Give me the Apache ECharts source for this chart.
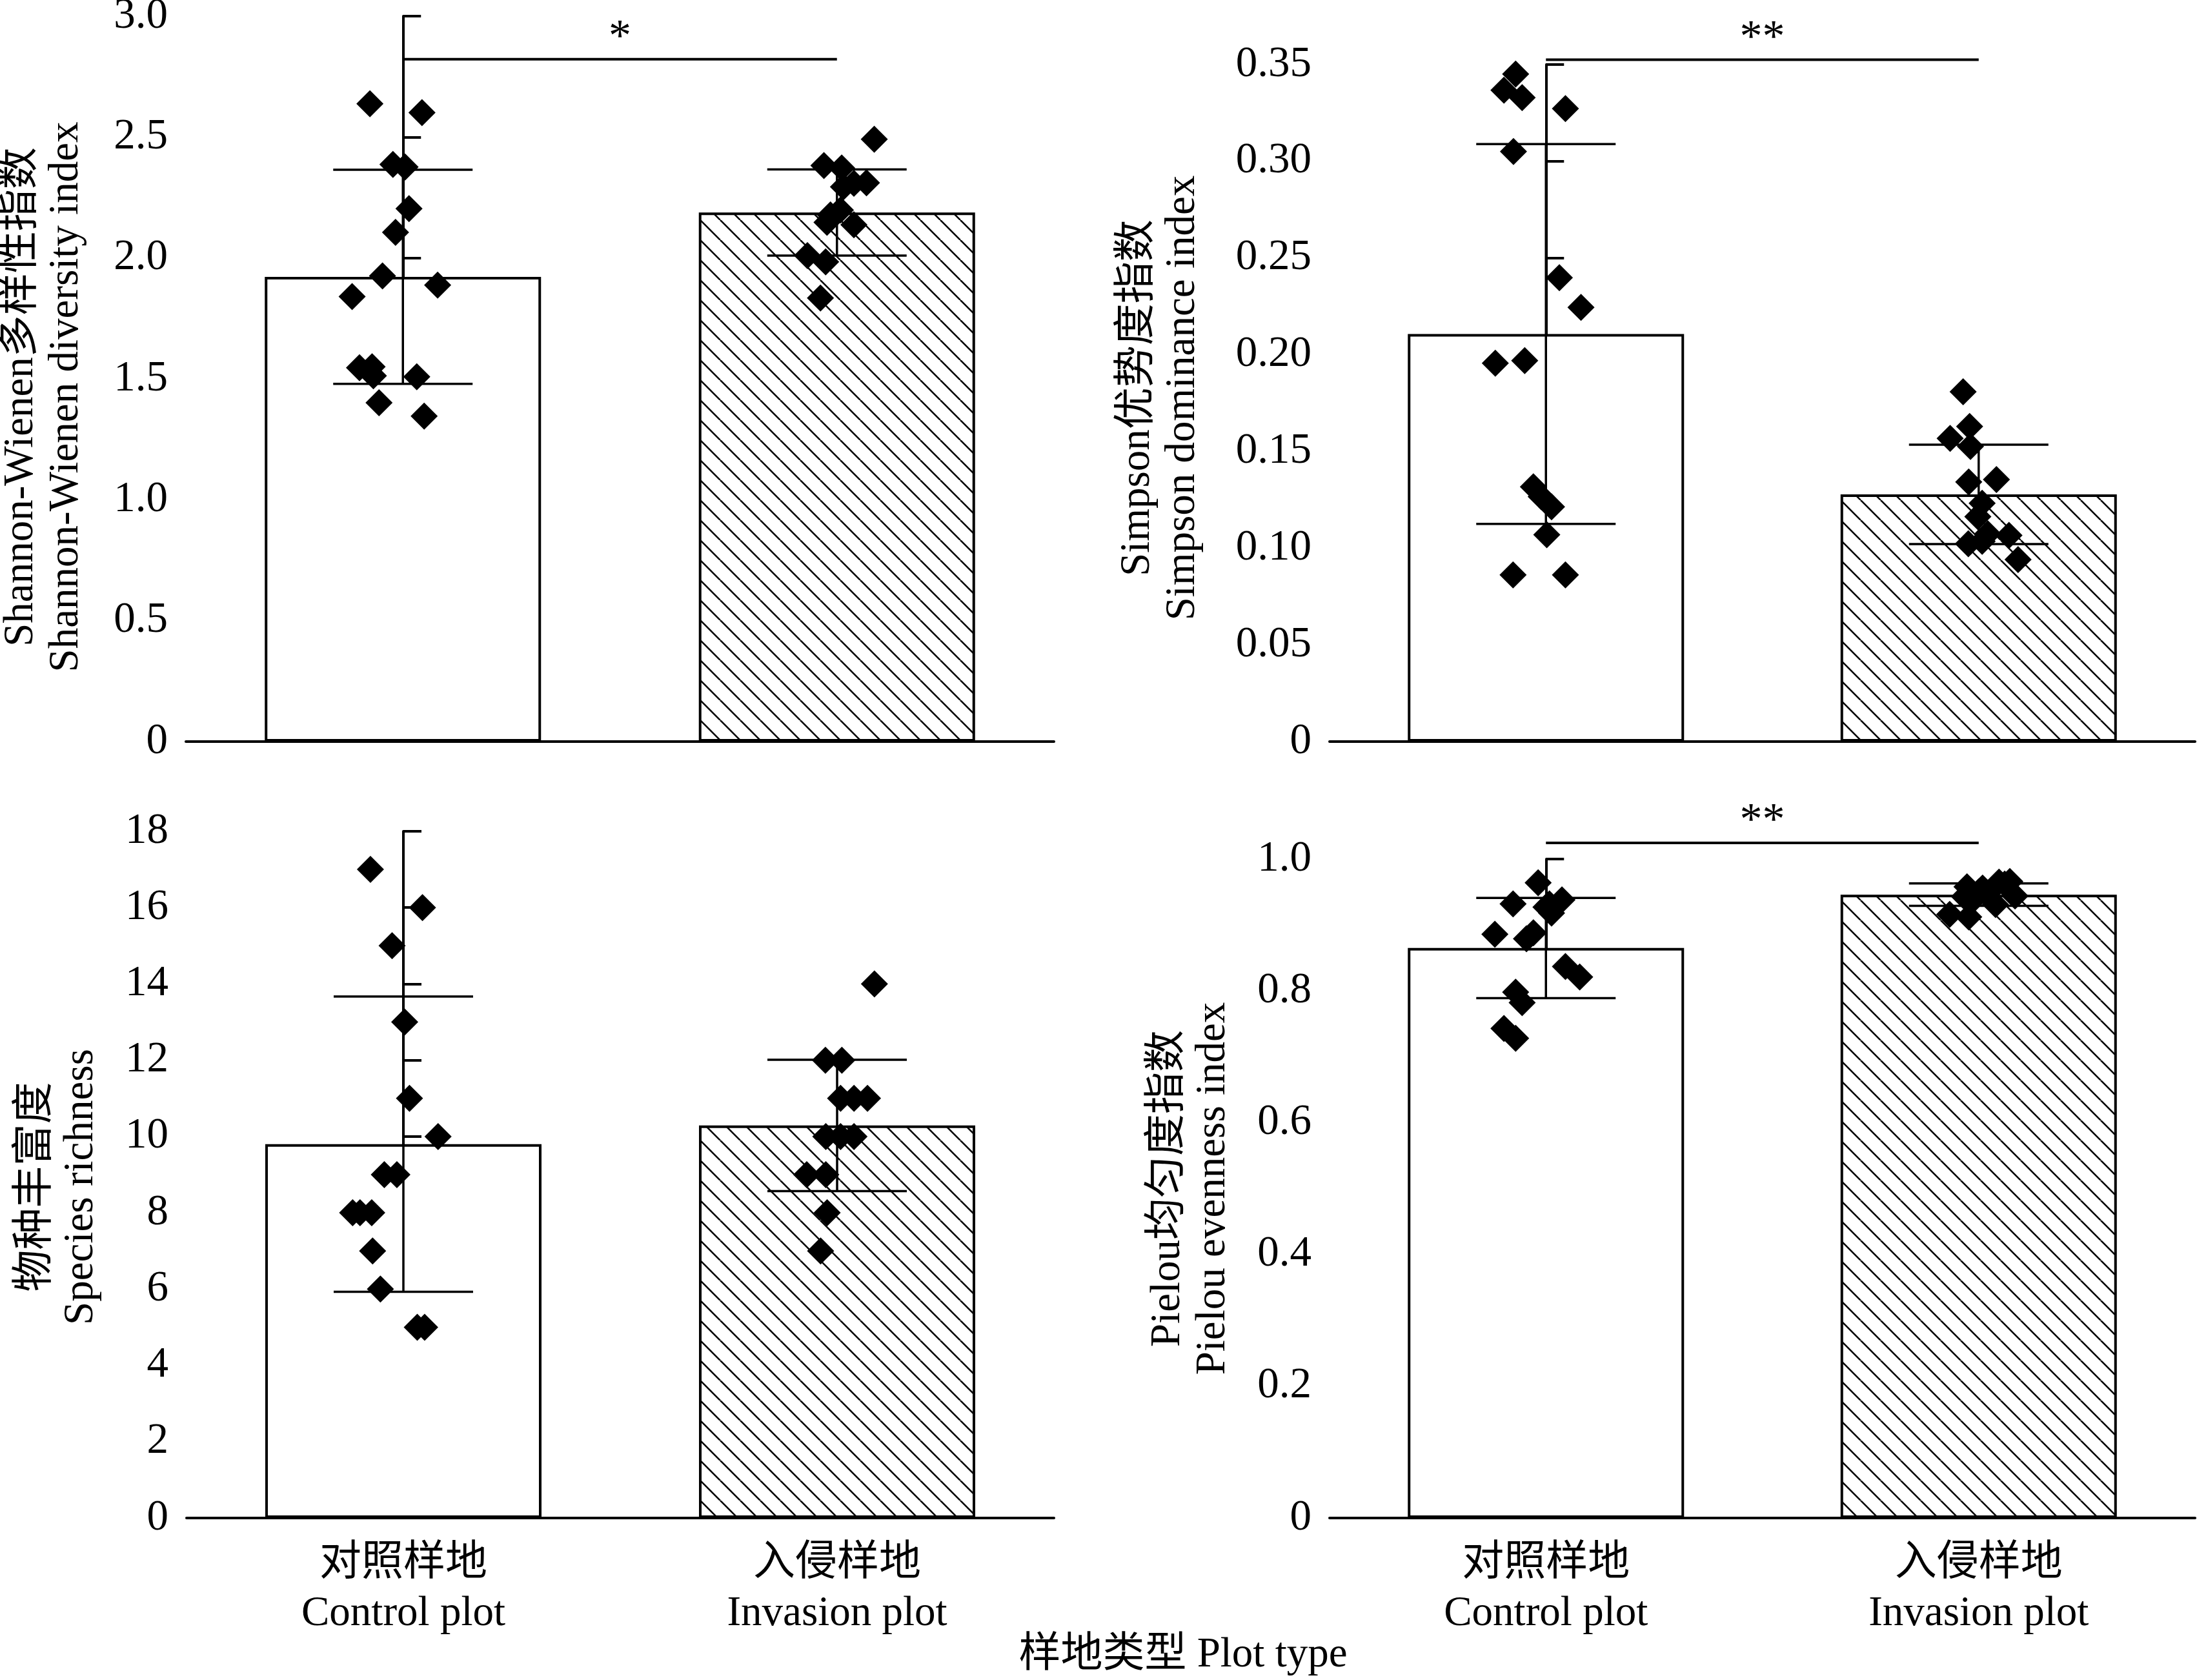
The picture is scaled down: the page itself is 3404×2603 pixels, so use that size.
<!DOCTYPE html>
<html>
<head>
<meta charset="utf-8">
<script src="https://cdn.jsdelivr.net/npm/echarts@6/dist/echarts.min.js"></script>
<style>
html,body{margin:0;padding:0;background:#fff;}
#c{width:3404px;height:2603px;}
</style>
</head>
<body>
<div id="c"></div>
<script>
// ---------------- data ----------------
const categories = ['对照样地\nControl plot', '入侵样地\nInvasion plot'];
const xTitle = '样地类型 Plot type';

// Shannon-Wienen
const shannonMean = [1.922, 2.188];
const shannonSD = [0.443, 0.178];
const shannonControl = [2.638, 2.601, 2.387, 2.376, 2.204, 2.106, 1.926, 1.888, 1.840, 1.546, 1.550, 1.513, 1.509, 1.401, 1.346];
const shannonControlJitter = [-0.076, 0.044, -0.023, 0.005, 0.014, -0.017, -0.047, 0.080, -0.117, -0.100, -0.071, -0.068, 0.032, -0.055, 0.049];
const shannonInvasion = [2.491, 2.382, 2.372, 2.311, 2.294, 2.309, 2.178, 2.198, 2.147, 2.137, 2.010, 1.984, 1.834];
const shannonInvasionJitter = [0.086, -0.030, 0.011, 0.068, 0.015, 0.039, -0.015, 0.008, -0.023, 0.039, -0.068, -0.026, -0.038];
const shannonSig = [2.822, '*'];

// Simpson
const simpsonMean = [0.2107, 0.1278];
const simpsonSD = [0.0982, 0.0257];
const simpsonControl = [0.3451, 0.3367, 0.3329, 0.3272, 0.3050, 0.2398, 0.2245, 0.1956, 0.1969, 0.1317, 0.1266, 0.1214, 0.1069, 0.0862, 0.0862];
const simpsonControlJitter = [-0.070, -0.097, -0.055, 0.045, -0.075, 0.031, 0.081, -0.117, -0.049, -0.029, -0.011, 0.013, 0.002, -0.076, 0.045];
const simpsonInvasion = [0.1808, 0.1629, 0.1567, 0.1526, 0.1342, 0.1355, 0.1232, 0.1163, 0.1023, 0.1074, 0.1066, 0.0941, 0.1035];
const simpsonInvasionJitter = [-0.036, -0.021, -0.066, -0.019, -0.023, 0.041, 0.008, -0.002, -0.024, 0.021, 0.070, 0.091, 0.008];
const simpsonSig = [0.3525, '**'];

// Species richness
const richnessMean = [9.80, 10.29];
const richnessSD = [3.87, 1.72];
const richnessControl = [17, 16, 15, 13, 11, 10, 9, 9, 8, 8, 8, 7, 6, 5, 5];
const richnessControlJitter = [-0.076, 0.044, -0.026, 0.003, 0.014, 0.080, -0.044, -0.015, -0.117, -0.100, -0.073, -0.071, -0.053, 0.032, 0.049];
const richnessInvasion = [14, 12, 12, 11, 11, 11, 10, 10, 10, 9, 9, 8, 7];
const richnessInvasionJitter = [0.086, -0.027, 0.011, 0.008, 0.039, 0.070, -0.026, 0.008, 0.039, -0.070, -0.026, -0.023, -0.038];
const richnessSig = null;

// Pielou
const pielouMean = [0.865, 0.946];
const pielouSD = [0.076, 0.017];
const pielouControl = [0.964, 0.932, 0.932, 0.938, 0.918, 0.927, 0.886, 0.879, 0.888, 0.837, 0.821, 0.798, 0.782, 0.743, 0.728];
const pielouControlJitter = [-0.018, -0.076, 0.008, 0.037, 0.013, 0.000, -0.118, -0.045, -0.029, 0.045, 0.078, -0.070, -0.055, -0.097, -0.070];
const pielouInvasion = [0.958, 0.956, 0.965, 0.966, 0.944, 0.931, 0.912, 0.916, 0.943, 0.950, 0.948, 0.940, 0.962];
const pielouInvasionJitter = [-0.027, 0.009, 0.047, 0.072, 0.084, 0.039, -0.023, -0.067, -0.033, 0.000, 0.020, -0.010, 0.060];
const pielouSig = [1.0245, '**'];

// ---------------- layout / style ----------------
const FONT = "'Liberation Serif', 'Times New Roman', 'Noto Sans CJK SC', serif";
const FS = 65;
const TICK_FS = 67;

function makeHatch() {
  const s = 31;
  const c = document.createElement('canvas');
  c.width = s; c.height = s;
  const ctx = c.getContext('2d');
  ctx.fillStyle = '#fff';
  ctx.fillRect(0, 0, s, s);
  ctx.strokeStyle = '#000';
  ctx.lineWidth = 2.6;
  for (const o of [-s, 0, s]) {
    ctx.beginPath();
    ctx.moveTo(o, 0);
    ctx.lineTo(o + s, s);
    ctx.stroke();
  }
  return c;
}
const hatch = { image: makeHatch(), repeat: 'repeat' };

const panels = [
  { grid: { left: 288, top: 25, width: 1345, height: 1124 }, max: 3, interval: 0.5, dec: 1,
    name: 'Shannon-Wienen多样性指数\nShannon-Wienen diversity index', nameGap: 150, namePad: [0, 56, 0, 0],
    mean: shannonMean, sd: shannonSD, ctrl: shannonControl, ctrlJ: shannonControlJitter,
    inv: shannonInvasion, invJ: shannonInvasionJitter, sig: shannonSig, labels: false },
  { grid: { left: 2060, top: 100, width: 1341, height: 1049 }, max: 0.35, interval: 0.05, dec: 2,
    name: 'Simpson优势度指数\nSimpson dominance index', nameGap: 192, namePad: [0, 0, 0, 16],
    mean: simpsonMean, sd: simpsonSD, ctrl: simpsonControl, ctrlJ: simpsonControlJitter,
    inv: simpsonInvasion, invJ: simpsonInvasionJitter, sig: simpsonSig, labels: false },
  { grid: { left: 289, top: 1288, width: 1344, height: 1064 }, max: 18, interval: 2, dec: 0,
    name: '物种丰富度\nSpecies richness', nameGap: 128, namePad: [0, 38, 0, 0],
    mean: richnessMean, sd: richnessSD, ctrl: richnessControl, ctrlJ: richnessControlJitter,
    inv: richnessInvasion, invJ: richnessInvasionJitter, sig: richnessSig, labels: true },
  { grid: { left: 2060, top: 1331, width: 1341, height: 1021 }, max: 1.0, interval: 0.2, dec: 1,
    name: 'Pielou均匀度指数\nPielou evenness index', nameGap: 145, namePad: [0, 0, 0, 0],
    mean: pielouMean, sd: pielouSD, ctrl: pielouControl, ctrlJ: pielouControlJitter,
    inv: pielouInvasion, invJ: pielouInvasionJitter, sig: pielouSig, labels: true }
];

const grids = [], xAxes = [], yAxes = [], series = [];

panels.forEach((p, g) => {
  grids.push(Object.assign({ containLabel: false, outerBoundsMode: 'none' }, p.grid));
  // category axis (visible)
  xAxes.push({
    type: 'category', gridIndex: g, data: categories, boundaryGap: true,
    axisLine: { show: true, lineStyle: { color: '#000', width: 4 } },
    axisTick: { show: true, inside: true, alignWithLabel: true, length: 19, lineStyle: { color: '#000', width: 3 } },
    axisLabel: { show: p.labels, interval: 0, margin: 32, color: '#000', fontSize: FS, lineHeight: 78, fontFamily: FONT },
    splitLine: { show: false }
  });
  // hidden value axis for points / error bars
  xAxes.push({ type: 'value', gridIndex: g, min: -0.5, max: 1.5, show: false, splitLine: { show: false } });
  yAxes.push({
    type: 'value', gridIndex: g, min: 0, max: p.max, interval: p.interval,
    name: p.name, nameLocation: 'middle', nameRotate: 90, nameGap: p.nameGap,
    nameTextStyle: { color: '#000', fontSize: FS, lineHeight: 70, fontFamily: FONT, padding: p.namePad },
    axisLine: { show: true, lineStyle: { color: '#000', width: 4 } },
    axisTick: { show: true, inside: true, length: 28, lineStyle: { color: '#000', width: 4 } },
    axisLabel: { margin: 28, color: '#000', fontSize: TICK_FS, fontFamily: FONT,
      formatter: v => (v === 0 ? '0' : v.toFixed(p.dec)) },
    splitLine: { show: false }
  });

  // bars
  series.push({
    type: 'bar', xAxisIndex: 2 * g, yAxisIndex: g, barWidth: 428, silent: true,
    itemStyle: { borderColor: '#000', borderWidth: 4, opacity: 1 },
    data: [
      { value: p.mean[0], itemStyle: { color: '#fff' } },
      { value: p.mean[1], itemStyle: { color: hatch } }
    ],
    z: 2
  });

  // error bars
  series.push({
    type: 'custom', xAxisIndex: 2 * g + 1, yAxisIndex: g, z: 3, silent: true,
    data: p.mean.map((m, i) => [i, m, p.sd[i]]),
    encode: { x: 0, y: 1 },
    renderItem: (params, api) => {
      const x = api.value(0), m = api.value(1), s = api.value(2);
      const t = api.coord([x, m + s]), b = api.coord([x, m - s]);
      const hw = 108;
      const st = { stroke: '#000', lineWidth: 3.5 };
      return { type: 'group', children: [
        { type: 'line', shape: { x1: t[0], y1: t[1], x2: b[0], y2: b[1] }, style: st },
        { type: 'line', shape: { x1: t[0] - hw, y1: t[1], x2: t[0] + hw, y2: t[1] }, style: st },
        { type: 'line', shape: { x1: b[0] - hw, y1: b[1], x2: b[0] + hw, y2: b[1] }, style: st }
      ] };
    }
  });

  // points
  const pts = p.ctrl.map((v, i) => [p.ctrlJ[i], v]).concat(p.inv.map((v, i) => [1 + p.invJ[i], v]));
  series.push({
    type: 'scatter', xAxisIndex: 2 * g + 1, yAxisIndex: g, z: 4, silent: true,
    symbol: 'diamond', symbolSize: 42, itemStyle: { color: '#000', opacity: 1 },
    data: pts
  });

  // significance bracket
  if (p.sig) {
    const star = p.sig[1];
    series.push({
      type: 'custom', xAxisIndex: 2 * g + 1, yAxisIndex: g, z: 5, silent: true, clip: false,
      data: [[0, 1, p.sig[0]]],
      encode: { x: 0, y: 2 },
      renderItem: (params, api) => {
        const y = api.value(2);
        const a = api.coord([api.value(0), y]), b = api.coord([api.value(1), y]);
        return { type: 'group', children: [
          { type: 'line', shape: { x1: a[0], y1: a[1], x2: b[0], y2: b[1] }, style: { stroke: '#000', lineWidth: 4 } },
          { type: 'text', x: (a[0] + b[0]) / 2, y: a[1] - 32,
            style: { text: star, fontSize: 70, fontFamily: FONT, fill: '#000',
              align: 'center', verticalAlign: 'middle', textAlign: 'center', textVerticalAlign: 'middle' } }
        ] };
      }
    });
  }
});

const option = {
  animation: false,
  backgroundColor: '#fff',
  textStyle: { fontFamily: FONT, color: '#000' },
  grid: grids,
  xAxis: xAxes,
  yAxis: yAxes,
  series: series,
  graphic: [{
    type: 'text', x: 1833, y: 2565,
    style: { text: xTitle, fontSize: FS, fontFamily: FONT, fill: '#000',
      align: 'center', verticalAlign: 'middle', textAlign: 'center', textVerticalAlign: 'middle' }
  }]
};

const chart = echarts.init(document.getElementById('c'), null, { renderer: 'canvas' });
chart.setOption(option);
</script>
</body>
</html>
